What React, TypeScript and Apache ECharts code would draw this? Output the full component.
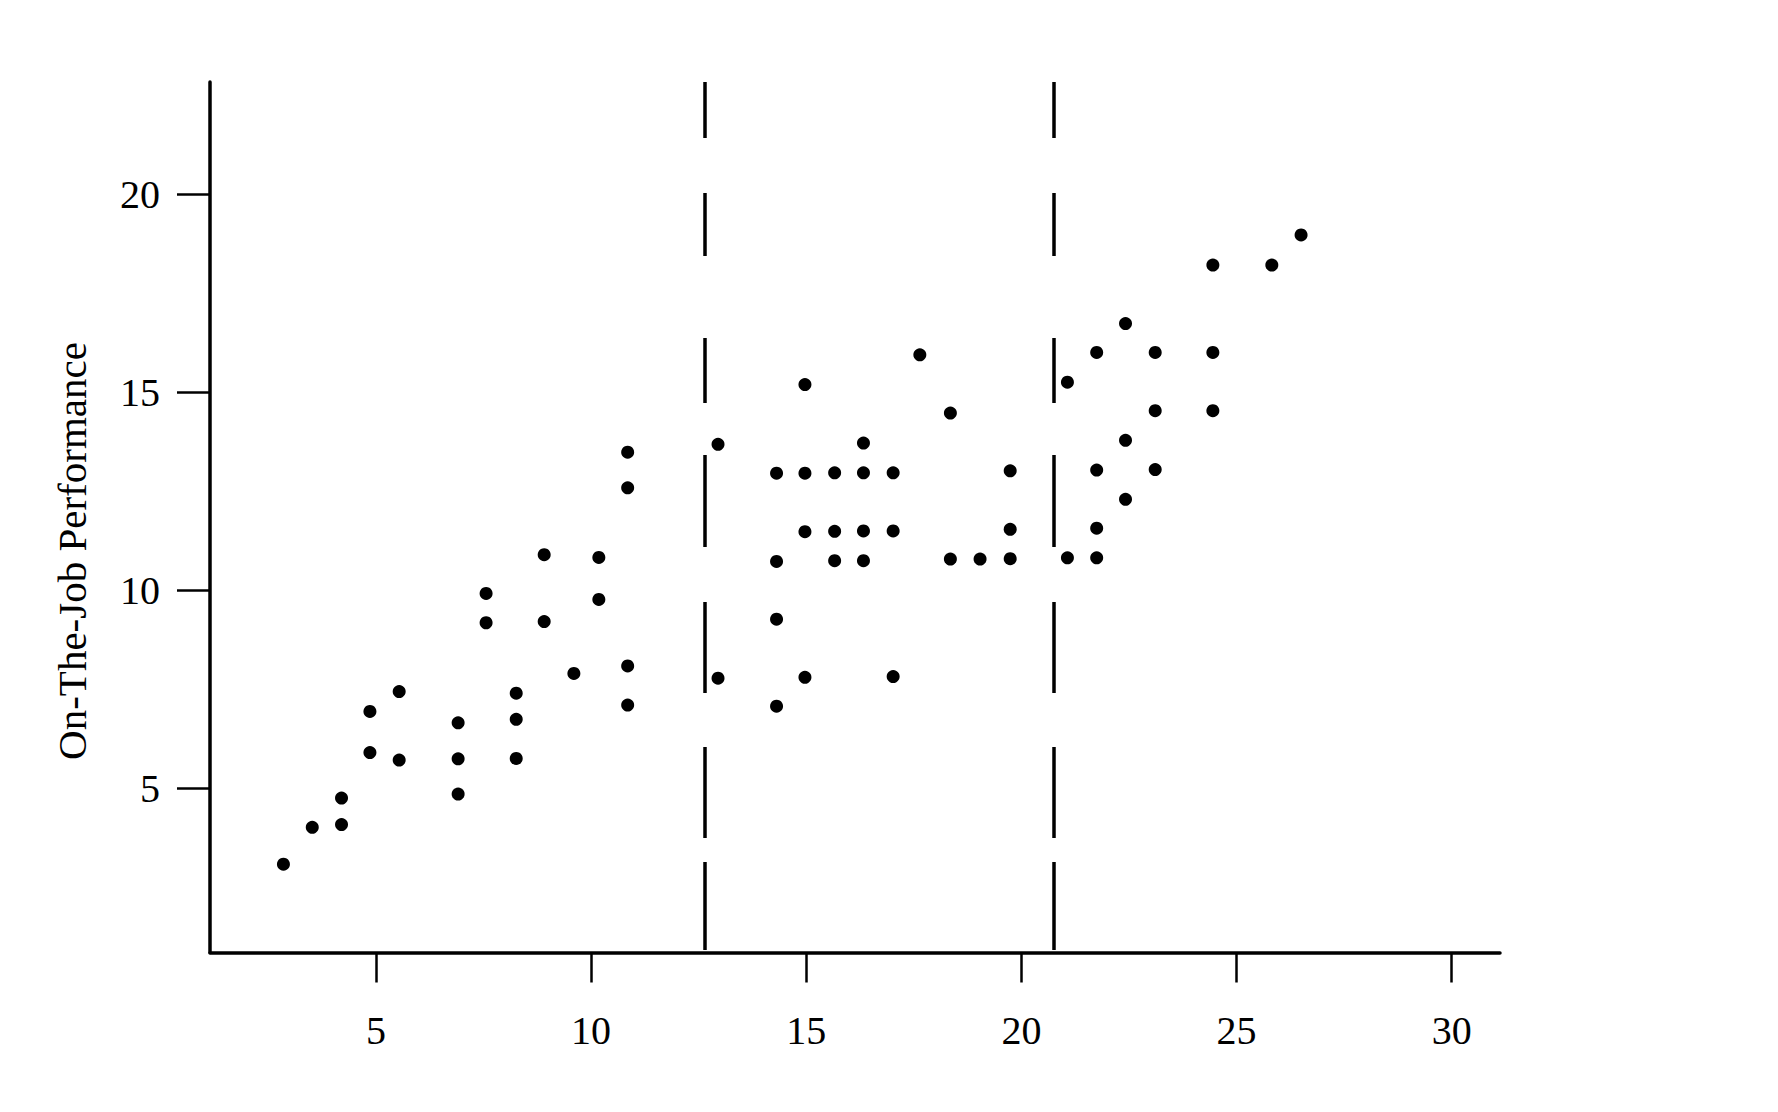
import React, { useEffect, useRef } from "react";
import * as echarts from "echarts";

// Test score (x) and on-the-job performance (y)
const testScores = [
  2.85, 3.52, 4.2, 4.2, 4.86, 4.86, 5.54, 5.54, 6.91, 6.91, 6.91, 8.26, 8.26, 8.26,
  7.56, 7.56, 8.91, 8.91, 10.18, 10.18, 9.6, 10.85, 10.85, 10.85, 10.85,
  12.95, 12.95, 14.31, 14.31, 14.31, 14.31, 14.97, 14.97, 14.97, 14.97,
  15.66, 15.66, 15.66, 16.33, 16.33, 16.33, 16.33, 17.02, 17.02, 17.02,
  17.64, 18.35, 18.35, 19.04, 19.74, 19.74, 19.74,
  21.07, 21.07, 21.75, 21.75, 21.75, 21.75, 22.42, 22.42, 22.42,
  23.11, 23.11, 23.11, 24.45, 25.82, 26.5, 24.45, 24.45,
];
const performance = [
  3.08, 4.01, 4.08, 4.75, 5.9, 6.94, 5.71, 7.44, 4.85, 5.74, 6.65, 5.75, 6.74, 7.4,
  9.18, 9.92, 9.21, 10.9, 10.83, 9.77, 7.9, 8.09, 7.1, 13.49, 12.59,
  13.69, 7.78, 12.96, 10.73, 9.27, 7.07, 15.2, 12.96, 11.48, 7.8,
  12.97, 11.49, 10.75, 13.72, 12.97, 11.5, 10.75, 12.97, 11.5, 7.82,
  15.95, 14.48, 10.79, 10.79, 13.02, 11.54, 10.8,
  15.26, 10.82, 16.01, 13.04, 11.57, 10.82, 16.74, 13.79, 12.3,
  16.01, 14.54, 13.05, 18.22, 18.22, 18.98, 16.01, 14.54,
];
const xTicks = [5, 10, 15, 20, 25, 30];
const yTicks = [5, 10, 15, 20];
const cutoffs = [12.65, 20.76];
const yTitle = "On-The-Job Performance";

const X_MIN = 1.1434;
const X_MAX = 31.123;
const Y_MIN = 0.8466;
const Y_MAX = 22.846;
const CUT_BOTTOM = 0.91;

const FONT = "'Liberation Serif', 'Times New Roman', serif";

export default function App() {
  const ref = useRef<HTMLDivElement>(null);

  useEffect(() => {
    if (!ref.current) return;
    const chart = echarts.init(ref.current, null, { renderer: "svg" });
    const points = testScores.map((x, i) => [x, performance[i]]);
    chart.setOption({
      animation: false,
      backgroundColor: "#ffffff",
      grid: {
        left: 210,
        right: 278,
        top: 82,
        bottom: 159.5,
        outerBoundsMode: "none",
        containLabel: false,
      },
      graphic: [
        {
          type: "text",
          x: 72,
          y: 551,
          rotation: Math.PI / 2,
          style: {
            text: yTitle,
            font: `41px ${FONT}`,
            fill: "#000",
            align: "center",
            verticalAlign: "middle",
          },
        },
      ],
      xAxis: {
        type: "value",
        min: X_MIN,
        max: X_MAX,
        splitLine: { show: false },
        axisLine: { onZero: false, lineStyle: { color: "#000", width: 3.5 } },
        axisTick: {
          show: true,
          inside: false,
          length: 30,
          customValues: xTicks,
          lineStyle: { color: "#000", width: 2.5 },
        },
        axisLabel: {
          customValues: xTicks,
          margin: 58,
          color: "#000",
          fontFamily: FONT,
          fontSize: 40,
        },
      },
      yAxis: {
        type: "value",
        min: Y_MIN,
        max: Y_MAX,
        splitLine: { show: false },
        axisLine: { onZero: false, lineStyle: { color: "#000", width: 3.5 } },
        axisTick: {
          show: true,
          inside: false,
          length: 33,
          customValues: yTicks,
          lineStyle: { color: "#000", width: 2.5 },
        },
        axisLabel: {
          customValues: yTicks,
          margin: 50,
          color: "#000",
          fontFamily: FONT,
          fontSize: 40,
        },
      },
      series: [
        {
          type: "scatter",
          data: points,
          symbol: "circle",
          symbolSize: 13,
          itemStyle: { color: "#000", opacity: 1 },
          clip: false,
          markLine: {
            silent: true,
            symbol: ["none", "none"],
            label: { show: false },
            lineStyle: {
              color: "#000",
              width: 3.5,
              opacity: 1,
              type: [56, 55, 63, 82, 65, 52, 92, 55, 91, 54, 91, 24, 88, 100],
            },
            data: cutoffs.map((c) => [
              { coord: [c, Y_MAX] },
              { coord: [c, CUT_BOTTOM] },
            ]),
          },
        },
      ],
    });
    return () => chart.dispose();
  }, []);

  return (
    <div
      ref={ref}
      style={{ position: "fixed", left: 0, top: 0, width: 1778, height: 1112 }}
    />
  );
}
